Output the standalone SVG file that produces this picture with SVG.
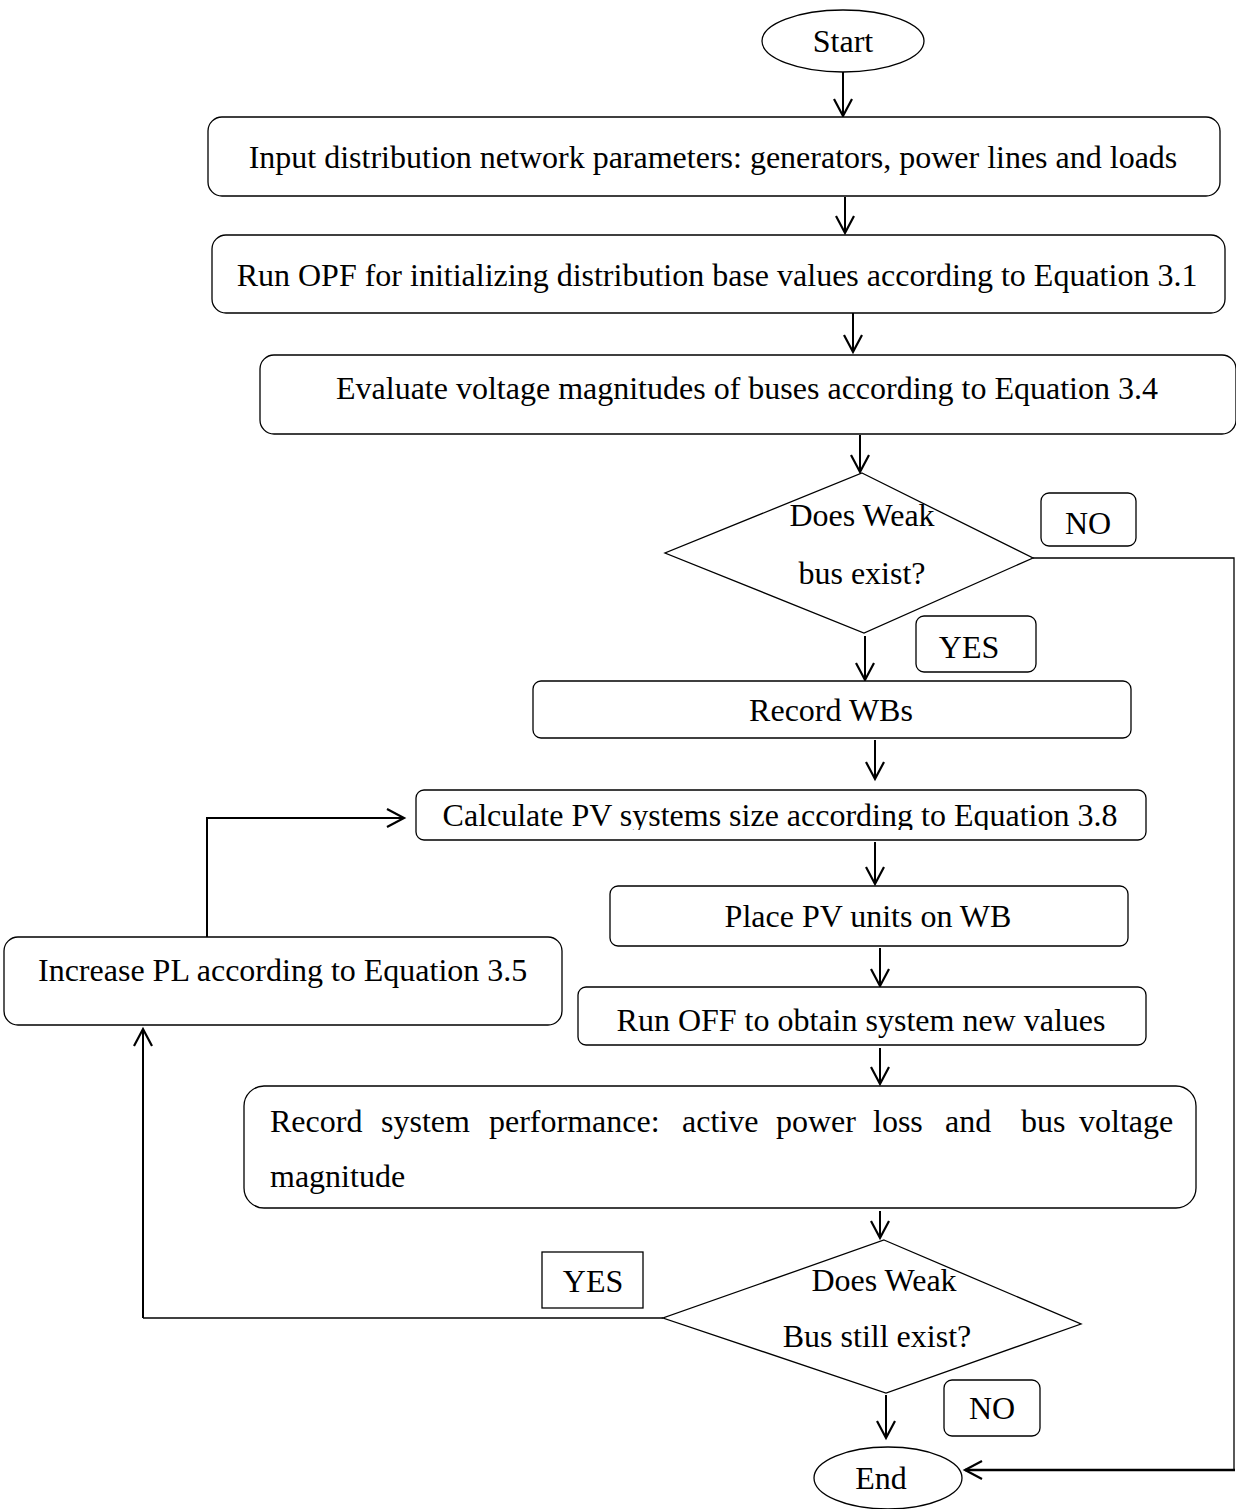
<svg xmlns="http://www.w3.org/2000/svg" width="1236" height="1509" viewBox="0 0 1236 1509">
<defs>
<marker id="arr" markerUnits="userSpaceOnUse" markerWidth="24" markerHeight="24" viewBox="0 0 24 24" refX="20" refY="12" orient="auto">
<path d="M3,3 L20,12 L3,21" fill="none" stroke="#000" stroke-width="2.2"/>
</marker>
<clipPath id="c1"><rect x="416" y="790" width="731" height="40"/></clipPath>
<clipPath id="c2"><rect x="578" y="987" width="569" height="53"/></clipPath>
</defs>
<style>
.box{fill:#fff;stroke:#000;stroke-width:1.3}
.t{font-family:"Liberation Serif","Times New Roman",serif;font-size:32px;fill:#000}
.m{text-anchor:middle}
.c{fill:none;stroke:#000;stroke-width:2}
.cl{fill:none;stroke:#000;stroke-width:1.3}
</style>
<rect width="1236" height="1509" fill="#fff"/>
<g id="connectors">
<line class="c" x1="843" y1="72" x2="843" y2="116" marker-end="url(#arr)"/>
<line class="c" x1="845" y1="197" x2="845" y2="233" marker-end="url(#arr)"/>
<line class="c" x1="853" y1="313" x2="853" y2="352" marker-end="url(#arr)"/>
<line class="c" x1="860" y1="435" x2="860" y2="472" marker-end="url(#arr)"/>
<line class="c" x1="865" y1="636" x2="865" y2="680" marker-end="url(#arr)"/>
<line class="c" x1="875" y1="740" x2="875" y2="779" marker-end="url(#arr)"/>
<line class="c" x1="875" y1="842" x2="875" y2="884" marker-end="url(#arr)"/>
<line class="c" x1="880" y1="948" x2="880" y2="986" marker-end="url(#arr)"/>
<line class="c" x1="880" y1="1048" x2="880" y2="1084" marker-end="url(#arr)"/>
<line class="c" x1="880" y1="1211" x2="880" y2="1238" marker-end="url(#arr)"/>
<line class="c" x1="886" y1="1395" x2="886" y2="1438" marker-end="url(#arr)"/>
<polyline class="cl" points="1033,558 1234,558 1234,1470"/>
<line x1="1235" y1="1470" x2="965" y2="1470" stroke="#000" stroke-width="2.6" marker-end="url(#arr)"/>
<polyline class="cl" points="663,1318 143,1318"/>
<polyline class="c" points="143,1318 143,1029" marker-end="url(#arr)"/>
<polyline class="c" points="207,937 207,818 404,818" marker-end="url(#arr)"/>
</g>
<g id="start">
<ellipse class="box" cx="843" cy="41" rx="81" ry="31"/>
<text class="t m" x="843" y="52">Start</text>
</g>
<g id="input">
<rect class="box" x="208" y="117" width="1012" height="79" rx="14"/>
<text class="t m" x="713" y="168">Input distribution network parameters: generators, power lines and loads</text>
</g>
<g id="runopf">
<rect class="box" x="212" y="235" width="1013" height="78" rx="14"/>
<text class="t m" x="717" y="286">Run OPF for initializing distribution base values according to Equation 3.1</text>
</g>
<g id="evaluate">
<rect class="box" x="260" y="355" width="976" height="79" rx="14"/>
<text class="t m" x="747" y="399">Evaluate voltage magnitudes of buses according to Equation 3.4</text>
</g>
<g id="decision1">
<polygon class="box" points="862,473 1033,558 864,633 665,553"/>
<text class="t m" x="862" y="526">Does Weak</text>
<text class="t m" x="862" y="584">bus exist?</text>
</g>
<g id="no1">
<rect class="box" x="1041" y="493" width="95" height="53" rx="8"/>
<text class="t m" x="1088" y="534">NO</text>
</g>
<g id="yes1">
<rect class="box" x="916" y="616" width="120" height="56" rx="8"/>
<text class="t m" x="969" y="658">YES</text>
</g>
<g id="recordwbs">
<rect class="box" x="533" y="681" width="598" height="57" rx="8"/>
<text class="t m" x="831" y="721">Record WBs</text>
</g>
<g id="calculate">
<rect class="box" x="416" y="790" width="730" height="50" rx="8"/>
<text class="t m" x="780" y="826" clip-path="url(#c1)">Calculate PV systems size according to Equation 3.8</text>
</g>
<g id="place">
<rect class="box" x="610" y="886" width="518" height="60" rx="8"/>
<text class="t m" x="868" y="927">Place PV units on WB</text>
</g>
<g id="runoff">
<rect class="box" x="578" y="987" width="568" height="58" rx="8"/>
<text class="t m" x="861" y="1031" clip-path="url(#c2)">Run OFF to obtain system new values</text>
</g>
<g id="increase">
<rect class="box" x="4" y="937" width="558" height="88" rx="14"/>
<text class="t" x="38" y="981">Increase PL according to Equation 3.5</text>
</g>
<g id="recordperf">
<rect class="box" x="244" y="1086" width="952" height="122" rx="20"/>
<text class="t" y="1132"><tspan x="270">Record</tspan><tspan x="381">system</tspan><tspan x="489">performance:</tspan><tspan x="682">active</tspan><tspan x="776">power</tspan><tspan x="873">loss</tspan><tspan x="945">and</tspan><tspan x="1021">bus</tspan><tspan x="1079">voltage</tspan></text>
<text class="t" x="270" y="1187">magnitude</text>
</g>
<g id="decision2">
<polygon class="box" points="884,1240 1081,1324 886,1393 663,1318"/>
<text class="t m" x="884" y="1291">Does Weak</text>
<text class="t m" x="877" y="1347">Bus still exist?</text>
</g>
<g id="yes2">
<rect class="box" x="542" y="1252" width="101" height="56"/>
<text class="t m" x="593" y="1292">YES</text>
</g>
<g id="no2">
<rect class="box" x="944" y="1380" width="96" height="56" rx="8"/>
<text class="t m" x="992" y="1419">NO</text>
</g>
<g id="end">
<ellipse class="box" cx="888" cy="1478" rx="74" ry="31"/>
<text class="t m" x="881" y="1489">End</text>
</g>
</svg>
